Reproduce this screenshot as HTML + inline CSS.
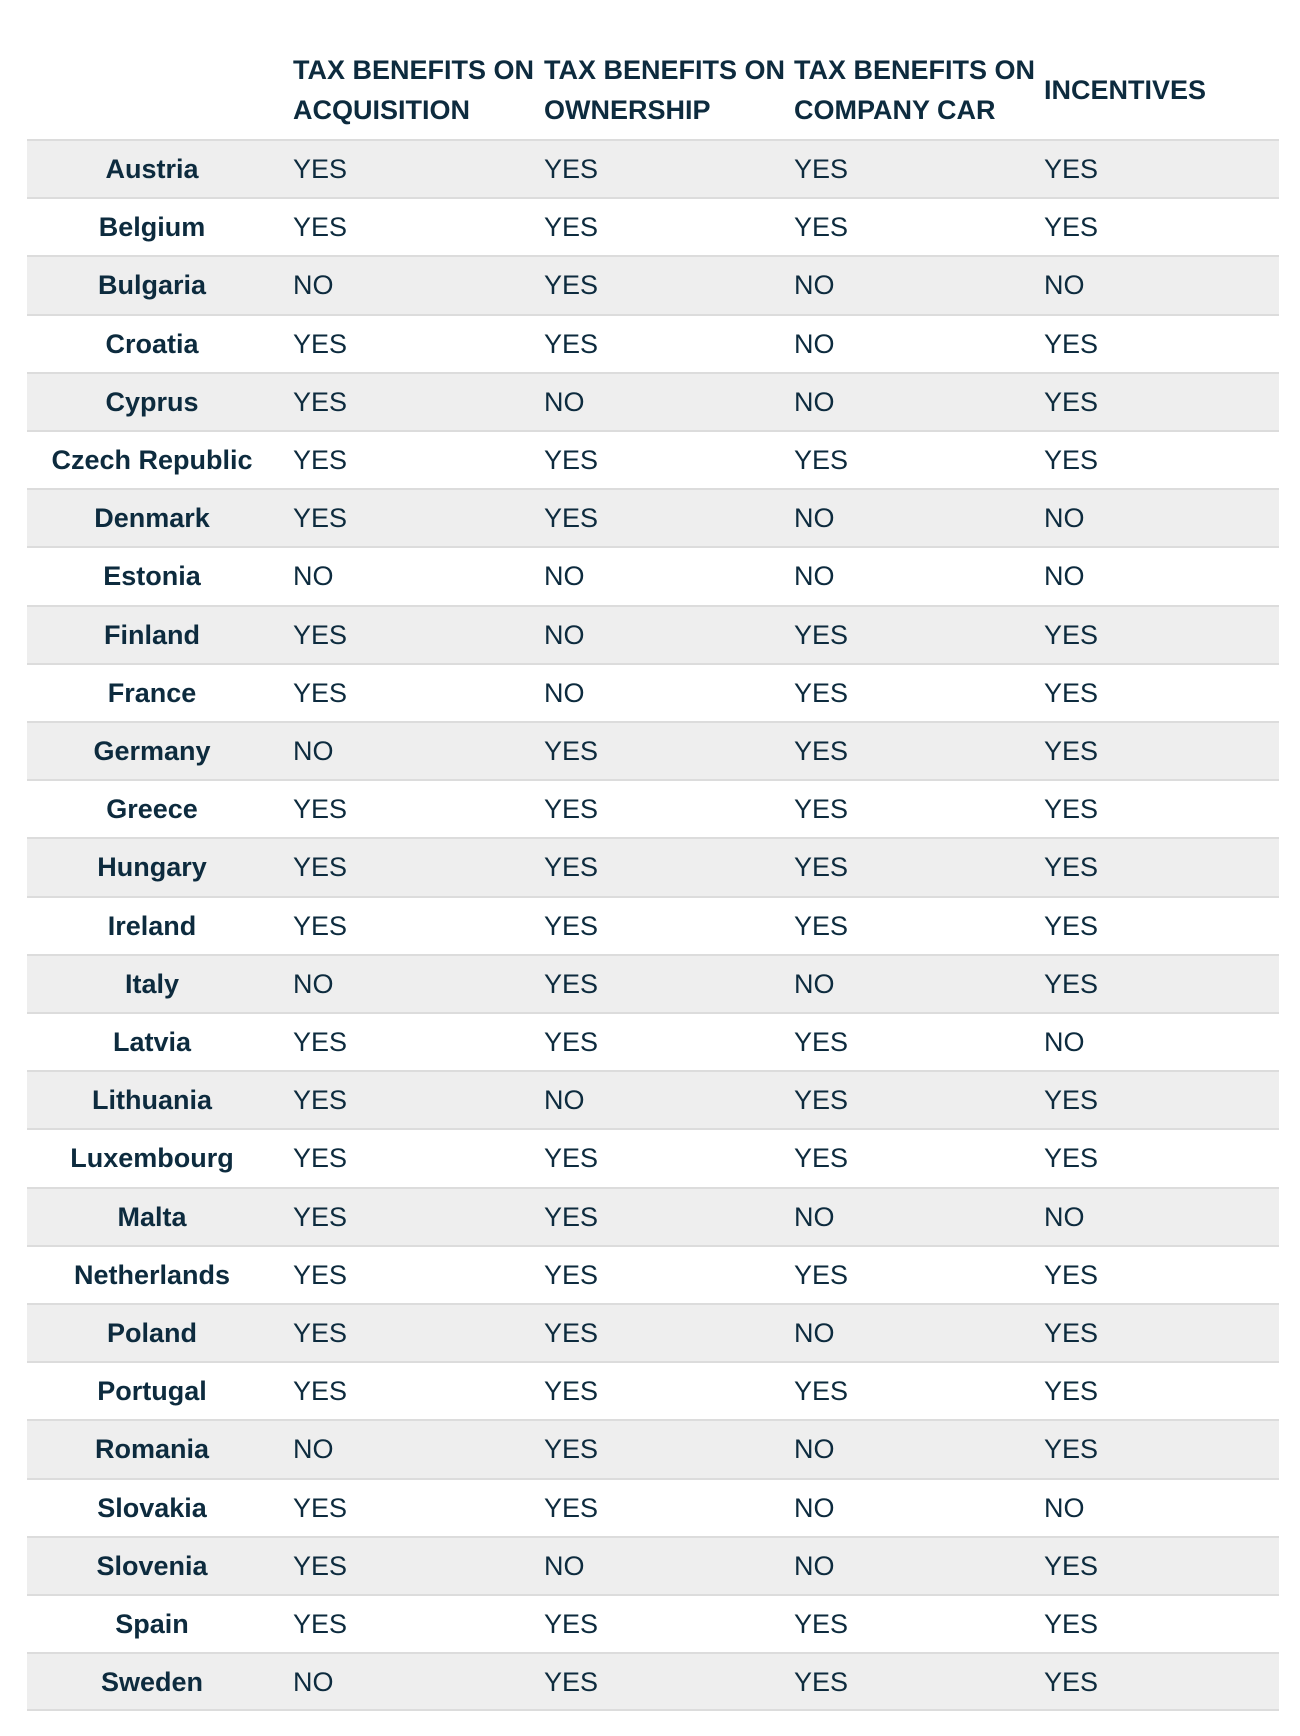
<!DOCTYPE html>
<html><head><meta charset="utf-8"><style>
body{margin:0;width:1300px;height:1736px;background:#fff;font-family:"Liberation Sans Narrow","Liberation Sans",sans-serif;color:#0d2b3e;position:relative;overflow:hidden}
.h{position:absolute;font-weight:bold;font-size:27px;line-height:40px;white-space:nowrap}
.row{position:absolute;left:27px;width:1252px;height:58.2px;box-sizing:border-box;border-top:2px solid #dcdcdc}
.row.g{background:#eeeeee}
.c{position:absolute;top:0;line-height:56px;font-size:27px;white-space:nowrap}
.cn{font-weight:bold;left:0;width:250px;text-align:center}
</style></head><body>
<div class="h" style="left:293px;top:50px">TAX BENEFITS ON<br>ACQUISITION</div>
<div class="h" style="left:544px;top:50px">TAX BENEFITS ON<br>OWNERSHIP</div>
<div class="h" style="left:794px;top:50px">TAX BENEFITS ON<br>COMPANY CAR</div>
<div class="h" style="left:1044px;top:70px">INCENTIVES</div>
<div id="tbl"></div>
<div style="position:absolute;left:27px;width:1252px;top:1709px;height:2px;background:#dcdcdc"></div>
<script>
const countries=["Austria","Belgium","Bulgaria","Croatia","Cyprus","Czech Republic","Denmark","Estonia","Finland","France","Germany","Greece","Hungary","Ireland","Italy","Latvia","Lithuania","Luxembourg","Malta","Netherlands","Poland","Portugal","Romania","Slovakia","Slovenia","Spain","Sweden"];
const acquisition=["YES","YES","NO","YES","YES","YES","YES","NO","YES","YES","NO","YES","YES","YES","NO","YES","YES","YES","YES","YES","YES","YES","NO","YES","YES","YES","NO"];
const ownership=["YES","YES","YES","YES","NO","YES","YES","NO","NO","NO","YES","YES","YES","YES","YES","YES","NO","YES","YES","YES","YES","YES","YES","YES","NO","YES","YES"];
const companyCar=["YES","YES","NO","NO","NO","YES","NO","NO","YES","YES","YES","YES","YES","YES","NO","YES","YES","YES","NO","YES","NO","YES","NO","NO","NO","YES","YES"];
const incentives=["YES","YES","NO","YES","YES","YES","NO","NO","YES","YES","YES","YES","YES","YES","YES","NO","YES","YES","NO","YES","YES","YES","YES","NO","YES","YES","YES"];
const cols=[acquisition,ownership,companyCar,incentives];
const colNames=["acquisition","ownership","company-car","incentives"];
const colX=[266,517,767,1017];
const tbl=document.getElementById('tbl');
countries.forEach((c,i)=>{
  const r=document.createElement('div');
  r.className='row'+(i%2===0?' g':'');
  r.style.top=(139+i*58.2)+'px';
  
  
  const n=document.createElement('div');
  n.className='c cn';n.textContent=c;
  
  
  r.appendChild(n);
  cols.forEach((col,j)=>{
    const d=document.createElement('div');
    d.className='c';d.style.left=colX[j]+'px';d.textContent=col[i];
    
    
    r.appendChild(d);
  });
  tbl.appendChild(r);
});
</script>
</body></html>
